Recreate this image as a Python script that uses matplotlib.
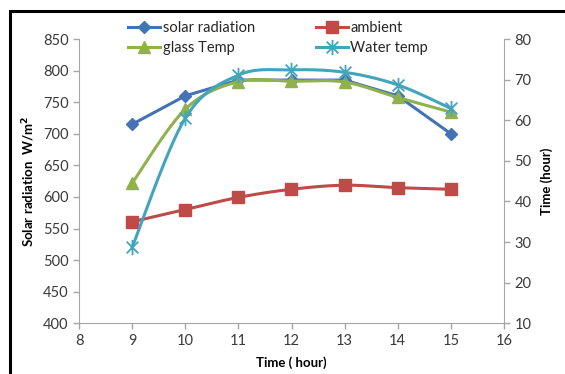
import numpy as np
import matplotlib
matplotlib.use("Agg")
import matplotlib.pyplot as plt
from matplotlib.path import Path
from matplotlib.patches import Rectangle
from matplotlib.lines import Line2D

hours = [9, 10, 11, 12, 13, 14, 15]
solar = [715, 760, 785, 785, 785, 760, 700]
ambient = [35.0, 38.0, 41.0, 43.0, 44.0, 43.4, 43.0]
glass = [44.5, 62.7, 69.5, 69.6, 69.4, 65.6, 62.0]
water = [28.7, 60.5, 71.1, 72.4, 71.8, 68.7, 62.9]

C_SOLAR = "#4572B4"
C_AMB = "#BE4B48"
C_GLASS = "#8FB14E"
C_WATER = "#43A4BE"

plt.rcParams['font.family'] = ['Lato', 'DejaVu Sans']

def smooth(xs, ys, n=30):
    xs = np.asarray(xs, float); ys = np.asarray(ys, float)
    P = np.column_stack([xs, ys])
    out = [P[0]]
    m = len(P)
    for i in range(m - 1):
        p0 = P[i - 1] if i > 0 else P[i]
        p1 = P[i]; p2 = P[i + 1]
        p3 = P[i + 2] if i + 2 < m else P[i + 1]
        c1 = p1 + (p2 - p0) / 6.0
        c2 = p2 - (p3 - p1) / 6.0
        t = np.linspace(0, 1, n)[1:, None]
        seg = (1 - t) ** 3 * p1 + 3 * (1 - t) ** 2 * t * c1 + 3 * (1 - t) * t ** 2 * c2 + t ** 3 * p2
        out.extend(seg)
    out = np.array(out)
    return out[:, 0], out[:, 1]

star = Path([(-1, -1), (1, 1), (-1, 1), (1, -1), (0, -1.3), (0, 1.3)],
            [Path.MOVETO, Path.LINETO, Path.MOVETO, Path.LINETO, Path.MOVETO, Path.LINETO])

fig = plt.figure(figsize=(5.65, 3.74), dpi=100)
ax = fig.add_axes([79/565, 1-323.3/374, (504-79)/565, (323.3-39)/374])
ax2 = ax.twinx()

ax.plot(hours, solar, color=C_SOLAR, lw=2.2, marker='D', ms=6.5, zorder=3)
sx, sy = smooth(hours, ambient)
ax2.plot(sx, sy, color=C_AMB, lw=2.2)
ax2.plot(hours, ambient, ls='none', marker='s', ms=8, color=C_AMB)
sx, sy = smooth(hours, glass)
ax2.plot(sx, sy, color=C_GLASS, lw=2.2)
ax2.plot(hours, glass, ls='none', marker='^', ms=9, color=C_GLASS)
sx, sy = smooth(hours, water)
ax2.plot(sx, sy, color=C_WATER, lw=2.2)
ax2.plot(hours, water, ls='none', marker=star, ms=11, mew=1.3, color=C_WATER, mfc='none')

ax.set_xlim(8, 16)
ax.set_ylim(400, 850)
ax.set_yticks(range(400, 851, 50))
ax.set_xticks(range(8, 17))
ax2.set_ylim(10, 80)
ax2.set_yticks(range(10, 81, 10))

for a in (ax, ax2):
    for s in a.spines.values():
        s.set_color('#A6A6A6')
    a.spines['top'].set_visible(False)
    a.tick_params(colors='#A6A6A6', labelcolor='#3A3A3A', labelsize=10.5, length=4, width=1)
ax.spines['right'].set_visible(False)
ax2.spines['left'].set_visible(False)
ax2.spines['bottom'].set_visible(False)

ax.set_xlabel("Time ( hour)", fontsize=9.5, fontweight='bold', labelpad=6)
ax.set_ylabel("Solar radiation  W/m$^\\mathbf{2}$", fontsize=9.5, fontweight='bold', labelpad=4)
ax2.set_ylabel("Time (hour)", fontsize=9.5, fontweight='bold', labelpad=6)

handles = [
    Line2D([], [], color=C_SOLAR, lw=2.2, marker='D', ms=6.5),
    Line2D([], [], color=C_GLASS, lw=2.2, marker='^', ms=9),
    Line2D([], [], color=C_AMB, lw=2.2, marker='s', ms=8),
    Line2D([], [], color=C_WATER, lw=2.2, marker=star, ms=11, mew=1.3, mfc='none'),
]
labels = ["solar radiation", "glass Temp", "ambient", "Water temp"]
leg = fig.legend(handles, labels, ncol=2, loc='center left', bbox_to_anchor=(121/565, 1-38/374),
                 frameon=False, fontsize=10.5, handlelength=2.2, handletextpad=0.15,
                 columnspacing=4.2, labelspacing=0.38, borderpad=0, labelcolor='#262626')

fig.add_artist(Rectangle((10/565, -0.1), 1.2, (1-11/374) + 0.1, transform=fig.transFigure,
                         fill=False, ec='black', lw=2.2))

fig.savefig("out.png", dpi=100)
